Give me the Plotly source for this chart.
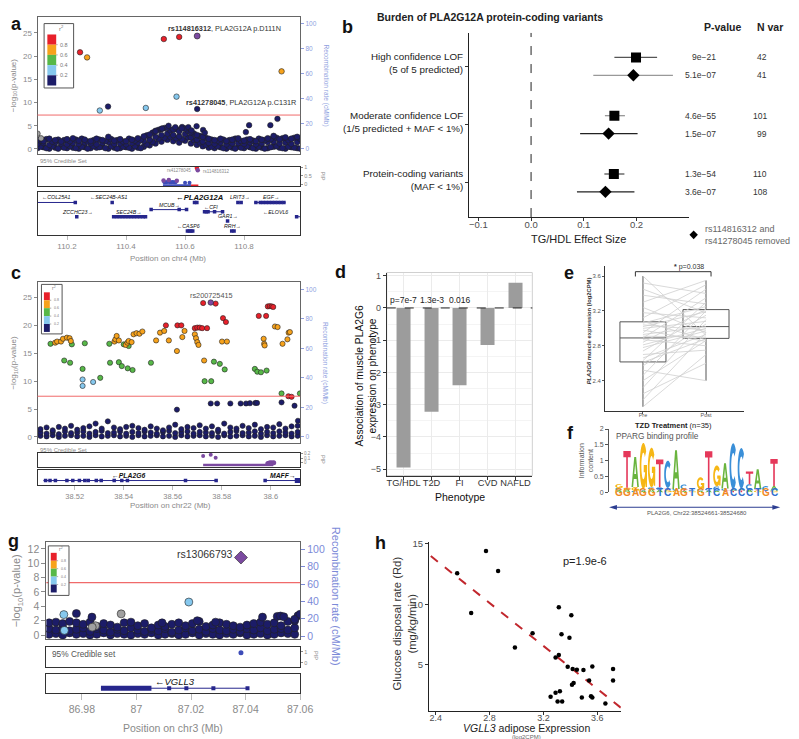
import numpy as np
import plotly.graph_objects as go

# =========================== DATA ===========================
# ---- panel a : PLA2G12A locus (chr4) ----
a_bg_x = [110.10, 110.12, 110.14, 110.16, 110.18, 110.20, 110.22, 110.24, 110.26, 110.28,
          110.30, 110.32, 110.34, 110.36, 110.38, 110.40, 110.42, 110.44, 110.46, 110.48,
          110.50, 110.52, 110.54, 110.56, 110.58, 110.60, 110.62, 110.64, 110.66, 110.68,
          110.70, 110.72, 110.74, 110.76, 110.78, 110.80, 110.82, 110.84, 110.86, 110.88,
          110.90, 110.92, 110.94, 110.96, 110.98]
a_bg_x2 = [110.11, 110.13, 110.15, 110.17, 110.19, 110.21, 110.23, 110.25, 110.27, 110.29,
           110.31, 110.33, 110.35, 110.37, 110.39, 110.41, 110.43, 110.45, 110.47, 110.49,
           110.51, 110.53, 110.55, 110.57, 110.59, 110.61, 110.63, 110.65, 110.67, 110.69,
           110.71, 110.73, 110.75, 110.77, 110.79, 110.81, 110.83, 110.85, 110.87, 110.89,
           110.91, 110.93, 110.95, 110.97, 110.99]
a_bg_hi = [2.0, 1.7, 2.2, 1.9, 1.6, 2.1, 2.3, 1.8, 2.0, 1.7, 2.2, 1.9, 2.6, 1.8, 2.1, 1.7, 2.0, 2.3, 2.7, 3.1,
           3.9, 4.3, 4.6, 4.2, 3.8, 4.4, 3.6, 3.0, 2.6, 2.2, 1.9, 2.2, 1.7, 2.0, 2.3, 1.8, 2.1, 1.7, 2.0, 2.3,
           2.8, 2.1, 2.5, 2.2, 2.6]
a_bg_hi2 = [1.8, 2.1, 1.6, 2.0, 1.9, 1.7, 2.0, 2.2, 1.6, 1.9, 2.0, 1.7, 2.1, 1.9, 1.6, 2.2, 1.8, 2.0, 2.9, 3.5,
            4.1, 4.5, 4.0, 4.3, 4.7, 3.9, 3.3, 2.8, 2.4, 2.0, 1.8, 2.0, 1.9, 2.2, 1.7, 2.0, 1.8, 2.2, 1.9, 2.1,
            2.4, 2.3, 1.9, 2.4, 2.2]
a_bg_mid = [1.1, 1.3, 0.9, 1.4, 1.2, 1.0, 1.3, 1.1, 1.4, 1.2, 1.0, 1.3, 1.5, 1.1, 1.2, 1.0, 1.3, 1.4, 1.7, 2.0,
            2.6, 3.0, 3.3, 3.0, 2.7, 3.2, 2.5, 2.0, 1.6, 1.3, 1.1, 1.4, 1.0, 1.2, 1.3, 1.1, 1.4, 1.0, 1.2, 1.5,
            1.6, 1.2, 1.4, 1.1, 1.5]
a_bg_lo = [0.2, 0.4, 0.1, 0.3, 0.5, 0.2, 0.3, 0.1, 0.4, 0.2, 0.3, 0.5, 0.1, 0.3, 0.2, 0.4, 0.1, 0.3, 0.5, 0.8,
           1.2, 1.6, 2.0, 1.7, 1.4, 1.8, 1.2, 0.9, 0.6, 0.3, 0.2, 0.4, 0.1, 0.3, 0.5, 0.2, 0.4, 0.1, 0.3, 0.2,
           0.5, 0.3, 0.1, 0.4, 0.2]
a_bg_lo2 = [0.5, 0.2, 0.6, 0.1, 0.3, 0.6, 0.2, 0.5, 0.1, 0.6, 0.4, 0.2, 0.6, 0.1, 0.5, 0.3, 0.6, 0.2, 1.0, 1.5,
            2.2, 2.4, 2.6, 2.3, 2.1, 2.5, 1.9, 1.4, 0.9, 0.5, 0.6, 0.2, 0.5, 0.1, 0.3, 0.6, 0.2, 0.5, 0.1, 0.4,
            0.6, 0.2, 0.5, 0.3, 0.1]
a_grey_x = [110.100, 110.112]
a_grey_y = [3.3, 2.3]
a_navy_x = [110.339, 110.641, 110.913, 110.889, 110.817, 110.806, 110.522, 110.544, 110.567, 110.589,
            110.611, 110.639, 110.661, 110.500, 110.622, 110.667]
a_navy_y = [9.12, 8.6, 6.48, 5.13, 5.13, 3.63, 4.4, 5.0, 4.7, 4.4, 4.7, 4.9, 4.1, 3.8, 4.0, 3.5]
a_lblue_x = [110.311, 110.467, 110.571]
a_lblue_y = [8.27, 8.83, 11.26]
a_orange_x = [110.268, 110.927]
a_orange_y = [19.7, 16.7]
a_red_x = [110.244, 110.528, 110.580]
a_red_y = [20.8, 23.65, 24.1]
a_lead_x = [110.641]
a_lead_y = [24.3]
# credible set (PIP)
a_pip_red_x, a_pip_red_y = [110.640], [0.97]
a_pip_lead_x, a_pip_lead_y = [110.643], [0.84]
a_pip_purple_x = [110.527, 110.545, 110.572]
a_pip_purple_y = [0.22, 0.25, 0.21]
a_pip_blue_x = [110.530, 110.535, 110.540, 110.548, 110.553, 110.558, 110.563, 110.568, 110.600, 110.615]
a_pip_blue_y = [0.13, 0.12, 0.14, 0.13, 0.12, 0.14, 0.13, 0.12, 0.10, 0.10]
a_cs_range = [110.525, 110.620, 110.645]
# genes
a_gene_names = ["COL25A1", "SEC24B-AS1", "PLA2G12A", "LRIT3", "EGF", "ZCCHC23", "SEC24B",
                "MCUB", "CFI", "GAR1", "RRH", "CASP6", "ELOVL6"]
a_gene_strand = [-1, -1, -1, 1, 1, 1, 1, 1, -1, 1, 1, -1, -1]
a_gene_start = [110.100, 110.352, 110.630, 110.778, 110.835, 110.231, 110.355,
                110.483, 110.664, 110.743, 110.757, 110.606, 110.976]
a_gene_end = [110.228, 110.355, 110.642, 110.792, 110.940, 110.235, 110.467,
              110.606, 110.728, 110.746, 110.767, 110.628, 110.990]
a_gene_row = [1, 1, 1, 1, 1, 3, 3, 2, 2.3, 3.6, 5, 5, 3]
a_gene_label_x = [110.165, 110.342, 110.650, 110.787, 110.890, 110.235, 110.410,
                  110.547, 110.687, 110.745, 110.762, 110.611, 110.908]
a_gene_exons = [[110.228], [110.353], [110.632, 110.640], [110.779, 110.790],
                [110.840, 110.855, 110.865, 110.875, 110.885, 110.895, 110.905, 110.915, 110.925, 110.935],
                [110.233],
                [110.358, 110.368, 110.378, 110.388, 110.398, 110.408, 110.418, 110.428, 110.438, 110.448, 110.458, 110.466],
                [110.485, 110.580, 110.605], [110.666, 110.672, 110.678, 110.700, 110.727],
                [110.744], [110.758, 110.766], [110.608, 110.614, 110.620, 110.626], [110.978]]

# ---- panel b : burden test ----
b_groups = ["High confidence LOF<br>(5 of 5 predicted)",
            "Moderate confidence LOF<br>(1/5 predicted + MAF &lt; 1%)",
            "Protein-coding variants<br>(MAF &lt; 1%)"]
b_group_pos = [3, 2, 1]
b_all_est = [0.199, 0.158, 0.157]
b_all_lo = [0.158, 0.140, 0.139]
b_all_hi = [0.239, 0.178, 0.177]
b_rm_est = [0.194, 0.147, 0.141]
b_rm_lo = [0.118, 0.093, 0.087]
b_rm_hi = [0.269, 0.202, 0.196]
b_all_p = ["9e−21", "4.6e−55", "1.3e−54"]
b_rm_p = ["5.1e−07", "1.5e−07", "3.6e−07"]
b_all_n = [42, 101, 110]
b_rm_n = [41, 99, 108]

# ---- panel c : PLA2G6 locus (chr22) ----
c_bg_x = [38.5060, 38.5085, 38.5110, 38.5135, 38.5160, 38.5185, 38.5210, 38.5235, 38.5260, 38.5285,
          38.5310, 38.5335, 38.5360, 38.5385, 38.5410, 38.5435, 38.5460, 38.5485, 38.5510, 38.5535,
          38.5560, 38.5585, 38.5610, 38.5635, 38.5660, 38.5685, 38.5710, 38.5735, 38.5760, 38.5785,
          38.5810, 38.5835, 38.5860, 38.5885, 38.5910, 38.5935, 38.5960, 38.5985, 38.6010, 38.6035,
          38.6060, 38.6085, 38.6110]
c_bg_hi = [1.4, 1.7, 1.2, 1.8, 1.5, 2.0, 1.3, 1.6, 1.9, 2.4, 1.5, 2.8, 1.7, 1.4, 1.8, 2.0, 1.6, 1.3, 1.9, 1.5,
           1.2, 1.7, 2.2, 1.4, 1.8, 1.6, 2.1, 1.5, 1.9, 1.3, 2.4, 1.7, 1.5, 2.0, 1.6, 2.2, 1.4, 1.8, 1.7, 2.3,
           1.5, 1.9, 2.0]
c_bg_mid = [0.8, 0.6, 0.9, 0.5, 1.0, 0.7, 0.8, 1.0, 0.6, 0.9, 1.1, 0.7, 0.8, 1.0, 0.6, 0.9, 0.7, 1.0, 0.8, 0.6,
            0.9, 1.1, 0.7, 0.8, 1.0, 0.6, 0.9, 0.8, 0.7, 1.0, 0.6, 0.9, 1.1, 0.7, 0.8, 1.0, 0.6, 0.9, 0.7, 1.0,
            0.8, 0.6, 0.9]
c_bg_lo = [0.2, 0.1, 0.3, 0.0, 0.2, 0.3, 0.1, 0.2, 0.0, 0.3, 0.1, 0.2, 0.3, 0.1, 0.2, 0.0, 0.3, 0.1, 0.2, 0.3,
           0.1, 0.2, 0.0, 0.3, 0.1, 0.2, 0.3, 0.1, 0.2, 0.0, 0.3, 0.1, 0.2, 0.3, 0.1, 0.2, 0.0, 0.3, 0.1, 0.2,
           0.3, 0.1, 0.2]
c_navy_x = [38.5617, 38.5755, 38.5781, 38.5835, 38.5877, 38.5899, 38.5915, 38.5937, 38.5944, 38.6044, 38.6097, 38.6111]
c_navy_y = [4.9, 6.0, 6.0, 6.0, 6.0, 6.0, 6.05, 6.1, 6.1, 6.2, 5.6, 2.9]
c_lblue_x = [38.5232, 38.5232, 38.5275]
c_lblue_y = [10.3, 9.15, 9.85]
c_green_x = [38.5101, 38.5188, 38.5157, 38.5181, 38.5232, 38.5241, 38.5304, 38.5341, 38.5344, 38.5380,
             38.5392, 38.5416, 38.5436, 38.5400, 38.5420, 38.5511, 38.5730, 38.5757, 38.5768, 38.5792,
             38.5812, 38.5935, 38.5945, 38.5960, 38.5983, 38.6044, 38.6119]
c_green_y = [16.7, 16.6, 13.7, 13.3, 12.2, 16.8, 10.6, 16.7, 13.3, 13.4, 12.7, 12.3, 12.0, 16.6, 16.3, 13.3,
             10.0, 10.0, 13.5, 13.1, 12.1, 12.2, 11.7, 11.6, 11.9, 7.8, 7.8]
c_orange_x = [38.5120, 38.5128, 38.5144, 38.5152, 38.5168, 38.5179, 38.5184, 38.5362, 38.5366, 38.5371,
              38.5380, 38.5408, 38.5415, 38.5420, 38.5432, 38.5440, 38.5452, 38.5464, 38.5476, 38.5532,
              38.5548, 38.5565, 38.5584, 38.5617, 38.5639, 38.5648, 38.5690, 38.5695, 38.5700, 38.5705,
              38.5728, 38.5801, 38.5821, 38.5971, 38.5973, 38.5975, 38.6017, 38.6028, 38.6048, 38.6068,
              38.6073, 38.6078]
c_orange_y = [16.9, 17.1, 17.1, 17.6, 17.8, 17.7, 17.2, 17.1, 17.5, 18.1, 17.3, 16.5, 16.9, 17.2, 17.0,
              18.4, 18.6, 18.5, 18.9, 17.3, 18.7, 19.0, 17.3, 15.4, 17.9, 19.0, 18.4, 17.7, 17.0, 16.5,
              13.7, 17.1, 17.1, 17.6, 16.7, 16.4, 19.8, 19.7, 16.7, 17.5, 18.7, 18.8]
c_red_x = [38.5724, 38.5775, 38.5988, 38.5996, 38.6004, 38.6010, 38.5951, 38.5981, 38.5805, 38.5817,
           38.5572, 38.5619, 38.5635, 38.5690, 38.5700, 38.5710, 38.5720, 38.5740, 38.6072, 38.6085]
c_red_y = [24.0, 23.9, 23.4, 23.45, 23.4, 23.3, 21.7, 21.7, 21.3, 20.6, 20.0, 20.0, 20.0, 19.5, 19.6, 19.6,
           19.5, 19.5, 7.3, 7.2]
c_lead_x, c_lead_y = [38.5755], [24.1]
c_pip_x = [38.5724, 38.5755, 38.5775]
c_pip_y = [0.15, 0.18, 0.11]
c_pip_cluster_x = [38.5988, 38.5994, 38.6000, 38.6006, 38.6012]
c_pip_cluster_y = [-0.02, -0.01, 0.0, -0.01, 0.0]
c_cs_range = [38.5724, 38.6010]
c_gene_names = ["PLA2G6", "MAFF"]
c_gene_strand = [-1, 1]
c_gene_start = [38.5072, 38.5977]
c_gene_end = [38.5777, 38.6128]
c_gene_label_x = [38.5420, 38.6048]
c_gene_exons = [[38.5081, 38.5099, 38.5121, 38.5168, 38.5192, 38.5219, 38.5241, 38.5255, 38.5288,
                 38.5308, 38.5361, 38.5392, 38.5415, 38.5652, 38.5777], [38.5977]]
c_gene_thick = [None, [38.6098, 38.6128]]

# ---- panel d ----
d_pheno = ["TG/HDL", "T2D", "FI", "CVD", "NAFLD"]
d_assoc = [-4.95, -3.22, -2.40, -1.15, 0.78]
d_pval = ["p=7e-7", "1.3e-3", "0.016", "", ""]

# ---- panel e ----
e_pre = [2.10, 2.18, 2.25, 2.32, 2.40, 2.46, 2.52, 2.57, 2.61, 2.63, 2.66, 2.70, 2.74, 2.78, 2.81, 2.84,
         2.87, 2.89, 2.91, 2.93, 2.95, 2.98, 3.00, 3.02, 3.04, 3.06, 3.08, 3.12, 3.18, 3.24, 3.30, 3.38,
         3.45, 3.52, 3.60]
e_post = [2.70, 2.95, 2.60, 3.10, 2.86, 3.20, 2.40, 3.05, 2.88, 3.30, 2.93, 2.75, 3.15, 2.97, 3.00, 3.22,
          2.80, 3.35, 2.90, 3.02, 3.45, 2.85, 3.08, 3.19, 2.98, 3.25, 2.87, 3.50, 3.12, 2.95, 3.55, 3.28,
          3.18, 3.40, 2.92]

# ---- panel f : PPARG motif logo ----
f_sequence = "GGAGGTCAGTGTCACCCTGC"
f_logo = [
    [("A", 0.08), ("C", 0.06), ("G", 0.12)],
    [("A", 0.10), ("G", 0.05), ("T", 1.16)],
    [("C", 0.05), ("G", 0.12), ("A", 0.95)],
    [("A", 0.06), ("C", 0.05), ("G", 1.45)],
    [("A", 0.10), ("C", 0.06), ("G", 1.25)],
    [("A", 0.08), ("C", 0.08), ("T", 0.88)],
    [("G", 0.08), ("T", 0.06), ("C", 0.86)],
    [("G", 0.06), ("C", 0.05), ("A", 1.22)],
    [("A", 0.05), ("T", 0.05), ("C", 0.15)],
    [("G", 0.04), ("C", 0.04)],
    [("A", 0.05), ("C", 0.05), ("G", 0.38)],
    [("A", 0.06), ("C", 0.06), ("T", 1.18)],
    [("A", 0.05), ("C", 0.14), ("G", 0.66)],
    [("T", 0.06), ("C", 0.06), ("A", 0.80)],
    [("T", 0.05), ("A", 0.05), ("C", 1.45)],
    [("T", 0.06), ("A", 0.06), ("C", 1.28)],
    [("A", 0.08), ("C", 0.18), ("T", 0.40)],
    [("G", 0.06), ("T", 0.05), ("A", 0.62)],
    [("T", 0.04), ("C", 0.16)],
    [("G", 0.05), ("A", 0.15), ("T", 0.85)],
]

# ---- panel g : VGLL3 locus (chr3) ----
g_bg_x = [86.9680, 86.9705, 86.9730, 86.9755, 86.9780, 86.9805, 86.9830, 86.9855, 86.9880, 86.9905,
          86.9930, 86.9955, 86.9980, 87.0005, 87.0030, 87.0055, 87.0080, 87.0105, 87.0130, 87.0155,
          87.0180, 87.0205, 87.0230, 87.0255, 87.0280, 87.0305, 87.0330, 87.0355, 87.0380, 87.0405,
          87.0430, 87.0455, 87.0480, 87.0505, 87.0530, 87.0555, 87.0580]
g_bg_hi = [1.7, 1.8, 1.6, 1.9, 1.7, 1.5, 1.8, 1.2, 1.6, 1.4, 1.1, 1.7, 1.8, 1.3, 1.6, 1.0, 1.4, 1.2, 1.5,
           1.7, 1.3, 1.6, 1.9, 1.2, 1.4, 1.7, 1.5, 1.3, 1.1, 1.4, 1.6, 1.8, 1.5, 1.7, 1.3, 1.9, 2.0]
g_bg_mid = [0.9, 0.7, 1.0, 0.6, 0.8, 1.0, 0.5, 0.9, 0.7, 0.4, 0.8, 0.6, 1.0, 0.7, 0.5, 0.8, 0.6, 0.9, 0.4,
            0.7, 1.0, 0.6, 0.8, 0.5, 0.9, 0.7, 0.6, 0.8, 0.5, 0.9, 0.7, 1.0, 0.6, 0.8, 0.9, 0.7, 1.0]
g_bg_lo = [0.1, 0.2, 0.0, 0.3, 0.1, 0.2, 0.0, 0.1, 0.3, 0.0, 0.2, 0.1, 0.0, 0.2, 0.1, 0.3, 0.0, 0.1, 0.2,
           0.0, 0.1, 0.3, 0.0, 0.2, 0.1, 0.0, 0.2, 0.1, 0.3, 0.0, 0.1, 0.2, 0.0, 0.1, 0.3, 0.2, 0.1]
g_grey_x = [86.9944, 86.9850, 86.9838]
g_grey_y = [2.95, 1.3, 1.1]
g_navy_x = [86.9780, 86.9837, 87.0462, 87.0516, 87.0528, 87.0540, 87.0592, 87.0094, 87.0223, 87.0290, 87.0580, 87.0600]
g_navy_y = [3.0, 2.5, 2.5, 2.6, 2.65, 2.55, 2.7, 1.7, 2.0, 1.8, 2.2, 2.9]
g_lblue_x = [87.0192, 86.9734, 86.9736]
g_lblue_y = [4.6, 2.85, 0.65]
g_lead_x, g_lead_y = [87.0383], [10.8]
g_pip_x, g_pip_y = [87.0383], [0.92]
g_gene_names = ["VGLL3"]
g_gene_strand = [-1]
g_gene_start = [86.987]
g_gene_end = [87.0407]
g_gene_label_x = [87.014]
g_gene_exons = [[87.012, 87.0183, 87.0282, 87.0407]]
g_gene_thick = [[86.987, 87.0055]]

# ---- panel h ----
h_expr = [2.559, 2.773, 2.863, 2.663, 2.988, 3.119, 3.314, 3.407, 3.334, 3.393, 3.314, 3.290,
          3.380, 3.417, 3.448, 3.497, 3.563, 3.717, 3.717, 3.539, 3.424, 3.412, 3.322, 3.290,
          3.253, 3.305, 3.339, 3.485, 3.553, 3.563, 3.660]
h_rd = [12.57, 14.4, 12.76, 9.29, 6.42, 7.6, 9.75, 9.1, 7.52, 7.24, 5.8, 5.6,
        4.84, 4.65, 4.59, 4.57, 4.86, 4.65, 3.69, 3.69, 3.5, 3.34, 2.81, 2.68,
        2.35, 1.97, 1.97, 2.3, 2.4, 2.3, 1.8]
h_fit_x = [2.363, 3.778]
h_fit_y = [13.99, 1.42]

# =========================== STYLE / LAYOUT ===========================
W, H = 799, 739
FONT = "Liberation Sans, Arial, Helvetica, sans-serif"
RED, ORANGE, GREEN, LBLUE, NAVY, PURPLE = "#e8202a", "#f7a21b", "#57b848", "#86c8ee", "#1c1c68", "#7b4aa0"
GREYPT = "#a0a0a0"
RECOMB = "#8f9fe0"
TXT = "#8a8a8a"
GENE = "#26268c"
LOGO_COL = {"A": "#6ab43e", "C": "#3a8fd8", "G": "#f6b716", "T": "#e5385a"}
SEQ_COL = {"A": "#f08a1e", "G": "#f08a1e", "C": "#2f6fcf", "T": "#2f6fcf"}


def X(p):
    return p / W


def Y(p):
    return 1 - p / H


def xdom(a, b):
    return [X(a), X(b)]


def ydom(top, bot):
    return [Y(bot), Y(top)]


fig = go.Figure()
ann = []
shp = []


def txt(text, x, y, size=9, color="#333", xa="center", ya="middle", angle=0,
        xref="paper", yref="paper", yshift=0, align="center"):
    if xref == "paper":
        x = X(x)
    if yref == "paper":
        y = Y(y)
    ann.append(dict(text=text, x=x, y=y, xref=xref, yref=yref, showarrow=False, align=align,
                    font=dict(size=size, color=color, family=FONT), xanchor=xa, yanchor=ya,
                    textangle=angle, yshift=yshift))


def pts(x, y, color, size, xa, ya, symbol="circle", lw=0.6, lc="#222"):
    fig.add_trace(go.Scatter(x=x, y=y, mode="markers", xaxis=xa, yaxis=ya,
                             marker=dict(color=color, size=size, symbol=symbol,
                                         line=dict(color=lc, width=lw)),
                             hoverinfo="skip", showlegend=False))


def seg(x, y, color, width, xa, ya, dash="solid"):
    fig.add_trace(go.Scatter(x=x, y=y, mode="lines", xaxis=xa, yaxis=ya,
                             line=dict(color=color, width=width, dash=dash),
                             hoverinfo="skip", showlegend=False))


def ghost(xa, ya, x, y):
    fig.add_trace(go.Scatter(x=[x], y=[y], mode="markers", xaxis=xa, yaxis=ya,
                             marker=dict(opacity=0), hoverinfo="skip", showlegend=False))


def box_axis(**kw):
    base = dict(showgrid=False, zeroline=False, showline=True, mirror=True, linecolor="#666",
                linewidth=1, ticks="", showticklabels=False)
    base.update(kw)
    return base


def r2_legend(x0, y0, x1, y1, bx0, bx1, btop, sh, fs, rfs, ry):
    shp.append(dict(type="rect", xref="paper", yref="paper", x0=X(x0), x1=X(x1), y0=Y(y0), y1=Y(y1),
                    line=dict(color="#555", width=1), fillcolor="white"))
    cols = [RED, ORANGE, GREEN, LBLUE, NAVY]
    for k, c in enumerate(cols):
        shp.append(dict(type="rect", xref="paper", yref="paper", x0=X(bx0), x1=X(bx1),
                        y0=Y(btop + sh * (k + 1)), y1=Y(btop + sh * k),
                        line=dict(width=0), fillcolor=c))
    for k, lab in enumerate(["0.8", "0.6", "0.4", "0.2"]):
        yy = btop + sh * (k + 1)
        shp.append(dict(type="line", xref="paper", yref="paper", x0=X(bx1), x1=X(bx1 + 1.5),
                        y0=Y(yy), y1=Y(yy), line=dict(color="#777", width=0.6)))
        txt(lab, bx1 + 2, yy, size=fs, color="#777", xa="left")
    txt("r<sup>2</sup>", (bx0 + x1) / 2 + 1, ry, size=rfs, color="#777")


def genes(names, strands, starts, ends, rows, label_x, exons, xa, ya, fsize, yshift,
          thick=None, bold=(), big=(), exon_size=4, lw=1):
    for i, n in enumerate(names):
        seg([starts[i], ends[i]], [rows[i], rows[i]], GENE, lw, xa, ya)
        if thick and thick[i]:
            seg(thick[i], [rows[i], rows[i]], GENE, 5, xa, ya)
        pts(exons[i], [rows[i]] * len(exons[i]), GENE, exon_size, xa, ya, symbol="square", lw=0)
        name = f"<i>{n}</i>"
        if n in bold:
            name = f"<b>{name}</b>"
        label = f"<b>←</b>{name}" if strands[i] < 0 else f"{name}<b>→</b>"
        fs = fsize * 1.45 if n in big else fsize
        ann.append(dict(text=label, x=label_x[i], y=rows[i], xref=xa, yref=ya, showarrow=False,
                        font=dict(size=fs, color="#111", family=FONT), xanchor="center",
                        yanchor="middle", yshift=yshift))


L = dict(width=W, height=H, autosize=False, margin=dict(l=0, r=0, t=0, b=0, pad=0),
         paper_bgcolor="white", plot_bgcolor="white", showlegend=False, hovermode=False,
         font=dict(family=FONT, size=9, color="#333"))

# ------------------------------ panel a ------------------------------
L["xaxis"] = box_axis(domain=xdom(30, 297), range=[110.1, 110.99], anchor="y")
L["yaxis"] = box_axis(domain=ydom(5, 143), range=[-1, 28.4], anchor="x", showticklabels=True,
                      tickvals=[0, 5, 10, 15, 20, 25], ticks="outside", ticklen=3, tickcolor=TXT,
                      tickfont=dict(size=8, color=TXT))
L["yaxis15"] = dict(overlaying="y", side="right", anchor="x", range=[-3.97, 105.6],
                    tickvals=[0, 20, 40, 60, 80, 100], ticks="outside", ticklen=3, tickcolor=RECOMB,
                    tickfont=dict(size=6.5, color=RECOMB), showgrid=False, zeroline=False, showline=False)
L["xaxis2"] = box_axis(domain=xdom(30, 297), range=[110.1, 110.99], anchor="y2", linecolor="#333")
L["yaxis2"] = box_axis(domain=ydom(156, 176), range=[-0.12, 1.06], anchor="x2", side="right",
                       showticklabels=True, tickvals=[0, 0.5, 1], ticks="outside", ticklen=2,
                       tickcolor=TXT, tickfont=dict(size=5.5, color=TXT), linecolor="#333")
L["xaxis3"] = box_axis(domain=xdom(30, 297), range=[110.1, 110.99], anchor="y3", linecolor="#333",
                       showticklabels=True, tickvals=[110.2, 110.4, 110.6, 110.8], ticks="outside",
                       ticklen=4, tickcolor="#bbb", tickfont=dict(size=8, color=TXT))
L["yaxis3"] = box_axis(domain=ydom(182, 225), range=[5.54, -0.43], anchor="x3", linecolor="#333")

for xs, ys in [(a_bg_x, a_bg_lo), (a_bg_x2, a_bg_lo2), (a_bg_x, a_bg_mid),
               (a_bg_x2, a_bg_hi2), (a_bg_x, a_bg_hi)]:
    pts(xs, ys, NAVY, 5.8, "x", "y")
pts(a_grey_x, a_grey_y, GREYPT, 5.5, "x", "y")
pts(a_navy_x, a_navy_y, NAVY, 5.5, "x", "y")
pts(a_lblue_x, a_lblue_y, LBLUE, 5.5, "x", "y")
pts(a_orange_x, a_orange_y, ORANGE, 5.5, "x", "y")
pts(a_red_x, a_red_y, RED, 5.5, "x", "y")
pts(a_lead_x, a_lead_y, PURPLE, 6, "x", "y")
ghost("x", "y15", 110.5, 0)
shp.append(dict(type="line", xref="x domain", yref="y", x0=0, x1=1, y0=7.3, y1=7.3,
                line=dict(color="#f06a6a", width=1)))
txt("<b>rs114816312</b>, PLA2G12A p.D111N", 161, 17, size=7.3, color="#333", xa="left")
txt("<b>rs41278045</b>, PLA2G12A p.C131R", 179, 91, size=7.3, color="#333", xa="left")
r2_legend(36.7, 11.7, 66.7, 76.7, 40, 49, 22.7, 10.3, 5.5, 6, 16.5)
# credible set
seg([a_cs_range[0], a_cs_range[1]], [-0.05, -0.05], "#3d4cb8", 2, "x2", "y2")
seg([a_cs_range[1], a_cs_range[2]], [-0.05, -0.05], RED, 1.5, "x2", "y2")
pts(a_pip_blue_x, a_pip_blue_y, "#3d4cb8", 4, "x2", "y2", lw=0)
pts(a_pip_purple_x, a_pip_purple_y, PURPLE, 4.5, "x2", "y2", lw=0)
pts(a_pip_red_x, a_pip_red_y, RED, 4.5, "x2", "y2", lw=0)
pts(a_pip_lead_x, a_pip_lead_y, PURPLE, 4.5, "x2", "y2", lw=0)
txt("rs41278045", 188, 160, size=4.5, color=TXT, xa="right")
txt("rs114816312", 196, 161, size=4.5, color=TXT, xa="left")
txt("95% Credible Set", 31, 150, size=6, color=TXT, xa="left")
txt("PIP", 320, 166, size=5.5, color=TXT, angle=90)
genes(a_gene_names, a_gene_strand, a_gene_start, a_gene_end, a_gene_row, a_gene_label_x,
      a_gene_exons, "x3", "y3", 5.3, 5, bold=("PLA2G12A",), big=("PLA2G12A",), exon_size=3.5)
txt("−log<sub>10</sub>(p-value)", 6, 74, size=8, color=TXT, angle=-90)
txt("Recombination rate (cM/Mb)", 323, 74, size=6.5, color=RECOMB, angle=90)
txt("Position on chr4 (Mb)", 163, 249, size=8, color=TXT)

# ------------------------------ panel b ------------------------------
L["xaxis4"] = dict(domain=xdom(469, 692), range=[-0.117, 0.299], anchor="y4",
                   tickvals=[-0.1, 0, 0.1, 0.2], ticktext=["−0.1", "0.0", "0.1", "0.2"],
                   tickfont=dict(size=9.5, color="#4d4d4d"), ticks="outside", ticklen=3,
                   tickcolor="#333", showline=True, linecolor="#222", showgrid=False, zeroline=False,
                   ticklabelstandoff=-4)
L["yaxis4"] = dict(domain=ydom(21, 207), range=[0.415, 3.576], anchor="x4", tickvals=b_group_pos,
                   showticklabels=False, ticks="outside", ticklen=3, tickcolor="#333",
                   showline=True, linecolor="#222", showgrid=False, zeroline=False)
for i, lab in enumerate(b_groups):
    ann.append(dict(text=lab, x=X(465), y=b_group_pos[i] + 0.05, xref="paper", yref="y4",
                    showarrow=False, xanchor="right", yanchor="middle", align="right",
                    font=dict(size=9.8, color="#222", family=FONT)))
shp.append(dict(type="line", xref="x4", yref="y4", x0=0, x1=0, y0=0.415, y1=3.576,
                line=dict(color="#222", width=1, dash="dash")))
OFF = 0.153
sq_cols = ["#555", "#777", "#222"]
di_cols = ["#999", "#222", "#222"]
for i in range(3):
    seg([b_all_lo[i], b_all_hi[i]], [b_group_pos[i] + OFF] * 2, sq_cols[i], 1.2, "x4", "y4")
    seg([b_rm_lo[i], b_rm_hi[i]], [b_group_pos[i] - OFF] * 2, di_cols[i], 1.2, "x4", "y4")
pts(b_all_est, [p + OFF for p in b_group_pos], "black", 10, "x4", "y4", symbol="square", lw=0)
pts(b_rm_est, [p - OFF for p in b_group_pos], "black", 9.5, "x4", "y4", symbol="diamond", lw=0)
txt("<b>Burden of PLA2G12A protein-coding variants</b>", 490, 5, size=10.5, color="#222")
txt("<b>P-value</b>", 727, 15, size=10.5, color="#222")
txt("<b>N var</b>", 775, 15, size=10.5, color="#222")
for i in range(3):
    for val, nv, off in [(b_all_p[i], b_all_n[i], OFF), (b_rm_p[i], b_rm_n[i], -OFF)]:
        ann.append(dict(text=val, x=X(722), y=b_group_pos[i] + off, xref="paper", yref="y4",
                        showarrow=False, font=dict(size=8.5, color="#333", family=FONT)))
        ann.append(dict(text=str(nv), x=X(774), y=b_group_pos[i] + off, xref="paper", yref="y4",
                        showarrow=False, font=dict(size=8.5, color="#333", family=FONT)))
txt("TG/HDL Effect Size", 580, 229, size=11, color="#222")
dx, dy = 4.3, 4.3
shp.append(dict(type="path", xref="paper", yref="paper",
                path=f"M {X(697-dx)},{Y(225)} L {X(697)},{Y(225-dy)} L {X(697+dx)},{Y(225)} L {X(697)},{Y(225+dy)} Z",
                fillcolor="black", line=dict(width=0)))
txt("rs114816312 and<br>rs41278045 removed", 706, 225, size=9, color="#666", xa="left", align="left")

# ------------------------------ panel c ------------------------------
L["xaxis5"] = box_axis(domain=xdom(30, 297), range=[38.5048, 38.612], anchor="y5")
L["yaxis5"] = box_axis(domain=ydom(273, 435), range=[-1.06, 27.7], anchor="x5", showticklabels=True,
                       tickvals=[0, 5, 10, 15, 20, 25], ticks="outside", ticklen=3, tickcolor=TXT,
                       tickfont=dict(size=8, color=TXT))
L["yaxis16"] = dict(overlaying="y5", side="right", anchor="x5", range=[-4.03, 104.7],
                    tickvals=[0, 20, 40, 60, 80, 100], ticks="outside", ticklen=3, tickcolor=RECOMB,
                    tickfont=dict(size=6.5, color=RECOMB), showgrid=False, zeroline=False, showline=False)
L["xaxis6"] = box_axis(domain=xdom(30, 297), range=[38.5048, 38.612], anchor="y6", linecolor="#333")
L["yaxis6"] = box_axis(domain=ydom(445, 459), range=[-0.089, 0.222], anchor="x6", side="right",
                       showticklabels=True, tickvals=[0, 0.1, 0.2], ticks="outside", ticklen=2,
                       tickcolor=TXT, tickfont=dict(size=4.5, color=TXT), linecolor="#333")
L["xaxis7"] = box_axis(domain=xdom(30, 297), range=[38.5048, 38.612], anchor="y7", linecolor="#333",
                       showticklabels=True, tickvals=[38.52, 38.54, 38.56, 38.58, 38.6],
                       ticktext=["38.52", "38.54", "38.56", "38.58", "38.6"], ticks="outside",
                       ticklen=4, tickcolor="#bbb", tickfont=dict(size=7.5, color=TXT))
L["yaxis7"] = box_axis(domain=ydom(462, 478), range=[1.71, -0.57], anchor="x7", linecolor="#333")

for xs, ys in [(c_bg_x, c_bg_lo), (c_bg_x, c_bg_mid), (c_bg_x, c_bg_hi)]:
    pts(xs, ys, NAVY, 5.2, "x5", "y5")
pts(c_navy_x, c_navy_y, NAVY, 5.2, "x5", "y5")
pts(c_lblue_x, c_lblue_y, LBLUE, 5.2, "x5", "y5")
pts(c_green_x, c_green_y, GREEN, 5.2, "x5", "y5")
pts(c_orange_x, c_orange_y, ORANGE, 5.2, "x5", "y5")
pts(c_red_x, c_red_y, RED, 5.2, "x5", "y5")
pts(c_lead_x, c_lead_y, PURPLE, 5.5, "x5", "y5")
ghost("x5", "y16", 38.55, 0)
shp.append(dict(type="line", xref="x5 domain", yref="y5", x0=0, x1=1, y0=7.3, y1=7.3,
                line=dict(color="#f06a6a", width=1)))
txt("rs200725415", 207, 286, size=7.3, color="#555")
r2_legend(34, 275, 55, 325, 36.5, 42.5, 283, 8, 3.5, 5, 279)
seg(c_cs_range, [-0.05, -0.05], PURPLE, 2.5, "x6", "y6")
pts(c_pip_x, c_pip_y, PURPLE, 4, "x6", "y6", lw=0)
pts(c_pip_cluster_x, c_pip_cluster_y, PURPLE, 5, "x6", "y6", lw=0)
txt("95% Credible Set", 31, 442, size=6, color=TXT, xa="left")
txt("PIP", 320, 452, size=5.5, color=TXT, angle=90)
genes(c_gene_names, c_gene_strand, c_gene_start, c_gene_end, [1, 1], c_gene_label_x,
      c_gene_exons, "x7", "y7", 6.8, 5, thick=c_gene_thick, bold=("PLA2G6", "MAFF"), exon_size=3.5)
txt("−log<sub>10</sub>(p-value)", 6, 354, size=8, color=TXT, angle=-90)
txt("Recombination rate (cM/Mb)", 323, 354, size=6.5, color=RECOMB, angle=90)
txt("Position on chr22 (Mb)", 165, 498, size=8, color=TXT)

# ------------------------------ panel d ------------------------------
L["xaxis8"] = dict(domain=xdom(385, 533), range=[-0.6, 4.6], anchor="y8", tickvals=list(range(5)),
                   ticktext=d_pheno, tickangle=0, tickfont=dict(size=9.3, color="#333"), ticks="outside",
                   ticklen=3, tickcolor="#333", showgrid=True, gridcolor="#ebebeb", showline=True,
                   linecolor="#333", zeroline=False, ticklabelstandoff=-5)
L["yaxis8"] = dict(domain=ydom(263, 468), range=[-5.2, 1.1], anchor="x8", tickvals=[-5, -4, -3, -2, -1, 0, 1],
                   ticktext=["−5", "−4", "−3", "−2", "−1", "0", "1"], tickfont=dict(size=9, color="#4d4d4d"),
                   ticks="outside", ticklen=3, tickcolor="#333", showgrid=True, gridcolor="#ebebeb",
                   minor=dict(showgrid=True, dtick=0.5, tick0=0, gridcolor="#f4f4f4"),
                   showline=True, linecolor="#333", zeroline=False)
shp.append(dict(type="rect", xref="x8 domain", yref="y8 domain", x0=0, x1=1, y0=0, y1=1,
                line=dict(color="#d0d0d0", width=1), layer="below"))
fig.add_trace(go.Bar(x=list(range(5)), y=d_assoc, width=0.5, xaxis="x8", yaxis="y8",
                     marker=dict(color="#9c9c9c", line=dict(width=0)), hoverinfo="skip"))
shp.append(dict(type="line", xref="x8 domain", yref="y8", x0=0, x1=1, y0=0, y1=0,
                line=dict(color="#222", width=1, dash="dash")))
for i, p in enumerate(d_pval):
    if p:
        ann.append(dict(text=p, x=i, y=0, xref="x8", yref="y8", showarrow=False, yanchor="bottom",
                        yshift=1, font=dict(size=8.5, color="#222", family=FONT)))
txt("Association of muscle PLA2G6<br>expression on phenotype", 363, 367, size=10.3, color="#111", angle=-90)
txt("Phenotype", 459, 490, size=10.5, color="#111")

# ------------------------------ panel e ------------------------------
L["xaxis9"] = dict(domain=xdom(607, 748), range=[-0.6, 1.6], anchor="y9", tickvals=[0, 1],
                   ticktext=["Pre", "Post"], tickfont=dict(size=5.5, color="#555"), ticks="outside",
                   ticklen=2, tickcolor="#555", showline=True, linecolor="#333", showgrid=False,
                   zeroline=False, ticklabelstandoff=-4)
L["yaxis9"] = dict(domain=ydom(256, 403), range=[2.05, 3.72], anchor="x9", tickvals=[2.4, 2.8, 3.2, 3.6],
                   tickfont=dict(size=6, color="#555"), ticks="outside", ticklen=2, tickcolor="#555",
                   showline=True, linecolor="#333", showgrid=False, zeroline=False)
pair_x, pair_y = [], []
for a, b in zip(e_pre, e_post):
    pair_x += [0, 1, None]
    pair_y += [a, b, None]
fig.add_trace(go.Scatter(x=pair_x, y=pair_y, mode="lines", xaxis="x9", yaxis="y9",
                         line=dict(color="#cfcfcf", width=0.8), hoverinfo="skip"))
for vals, pos in [(e_pre, 0), (e_post, 1)]:
    fig.add_trace(go.Box(y=vals, x0=pos, width=0.73, xaxis="x9", yaxis="y9", boxpoints=False,
                         whiskerwidth=0, fillcolor="rgba(0,0,0,0)", line=dict(color="#555", width=1),
                         hoverinfo="skip"))
shp.append(dict(type="path", xref="x9", yref="y9",
                path="M -0.12,3.595 L -0.12,3.65 L 1.08,3.65 L 1.08,3.595", line=dict(color="#333", width=1)))
txt("<b>*</b> p=0.038", 692, 257, size=7, color="#333")
txt("<b><i>PLA2G6</i> muscle expression (log2CPM)</b>", 591, 322, size=5.8, color="#333", angle=-90)
txt("<b>TZD Treatment</b> (n=35)", 677, 417, size=7.5, color="#222")

# ------------------------------ panel f ------------------------------
L["xaxis10"] = dict(domain=xdom(611, 785), range=[-0.2, 20.76], anchor="y10", visible=False)
L["yaxis10"] = dict(domain=ydom(421, 485), range=[0, 2], anchor="x10", tickvals=[0, 0.5, 1, 1.5, 2],
                    ticktext=["0", "0.5", "1", "1.5", "2"], tickfont=dict(size=7, color="#555"),
                    ticks="outside", ticklen=3, tickcolor="#555", showline=True, linecolor="#555",
                    showgrid=False, zeroline=False)
ghost("x10", "y10", 10, 1)


def glyph(letter):
    if letter == "T":
        return [([(0, 1), (1, 1), (1, 0.83), (0.61, 0.83), (0.61, 0), (0.39, 0), (0.39, 0.83), (0, 0.83)], None)]
    if letter == "A":
        return [([(0, 0), (0.37, 1), (0.63, 1), (1, 0), (0.78, 0), (0.69, 0.27), (0.31, 0.27), (0.22, 0)], None),
                ([(0.38, 0.43), (0.62, 0.43), (0.5, 0.78)], "white")]
    if letter == "C":
        t = np.radians(np.linspace(45, 315, 30))
        outer = [(0.5 + 0.5 * np.cos(a), 0.5 + 0.5 * np.sin(a)) for a in t]
        inner = [(0.5 + 0.27 * np.cos(a), 0.5 + 0.29 * np.sin(a)) for a in t[::-1]]
        return [(outer + inner, None)]
    t = np.radians(np.linspace(40, 355, 30))
    outer = [(0.5 + 0.5 * np.cos(a), 0.5 + 0.5 * np.sin(a)) for a in t]
    inner = [(0.5 + 0.27 * np.cos(a), 0.5 + 0.29 * np.sin(a)) for a in t[::-1]]
    bar = [(0.55, 0.52), (1.0, 0.52), (1.0, 0.04), (0.8, 0.04), (0.8, 0.36), (0.55, 0.36)]
    return [(outer + inner, None), (bar, None)]


LW = 0.9
for i, stack in enumerate(f_logo):
    pos = i + 1
    base = 0.0
    for letter, h in stack:
        for poly, fill in glyph(letter):
            path = "M " + " L ".join(f"{pos - LW / 2 + u * LW:.4f},{base + v * h:.4f}" for u, v in poly) + " Z"
            shp.append(dict(type="path", xref="x10", yref="y10", path=path,
                            fillcolor=fill or LOGO_COL[letter], line=dict(width=0)))
        base += h
for i, ch in enumerate(f_sequence):
    ann.append(dict(text=f"<b>{ch}</b>", x=i + 1, y=Y(493), xref="x10", yref="paper", showarrow=False,
                    font=dict(size=10, color=SEQ_COL[ch], family=FONT)))
shp.append(dict(type="line", xref="paper", yref="paper", x0=X(616), x1=X(780), y0=Y(500), y1=Y(500),
                line=dict(color="#2c3e91", width=1)))
for tip, back in [(611, 619), (785, 777)]:
    shp.append(dict(type="path", xref="paper", yref="paper",
                    path=f"M {X(tip)},{Y(500)} L {X(back)},{Y(497.6)} L {X(back)},{Y(502.4)} Z",
                    fillcolor="#2c3e91", line=dict(width=0)))
txt("PLA2G6, Chr22:38524661-38524680", 700, 506, size=6, color="#555")
txt("PPARG binding profile", 616, 428, size=8.3, color="#555", xa="left")
txt("Information<br>content", 587, 453, size=7, color="#555", angle=-90)

# ------------------------------ panel g ------------------------------
L["xaxis11"] = box_axis(domain=xdom(39, 297), range=[86.967, 87.06], anchor="y11")
L["yaxis11"] = box_axis(domain=ydom(535, 633), range=[-0.55, 12.97], anchor="x11", showticklabels=True,
                        tickvals=[0, 2, 4, 6, 8, 10, 12], ticks="outside", ticklen=4, tickcolor=TXT,
                        tickfont=dict(size=10.5, color=TXT))
L["yaxis17"] = dict(overlaying="y11", side="right", anchor="x11", range=[-3.4, 108.6],
                    tickvals=[0, 20, 40, 60, 80, 100], ticks="outside", ticklen=4, tickcolor="#7c8ad8",
                    tickfont=dict(size=10.5, color="#7c8ad8"), showgrid=False, zeroline=False, showline=False)
L["xaxis12"] = box_axis(domain=xdom(39, 297), range=[86.967, 87.06], anchor="y12", linecolor="#333")
L["yaxis12"] = box_axis(domain=ydom(641, 661), range=[-0.36, 1.45], anchor="x12", side="right",
                        showticklabels=True, tickvals=[0, 1], ticks="outside", ticklen=2, tickcolor=TXT,
                        tickfont=dict(size=5.5, color=TXT), linecolor="#333")
L["xaxis13"] = box_axis(domain=xdom(39, 297), range=[86.967, 87.06], anchor="y13", linecolor="#333",
                        showticklabels=True, tickvals=[86.98, 87.0, 87.02, 87.04, 87.06],
                        ticktext=["86.98", "87", "87.02", "87.04", "87.06"], ticks="outside", ticklen=6,
                        tickcolor="#bbb", tickfont=dict(size=10.5, color=TXT))
L["yaxis13"] = box_axis(domain=ydom(668, 688), range=[1.76, -1.1], anchor="x13", linecolor="#333")

for xs, ys in [(g_bg_x, g_bg_lo), (g_bg_x, g_bg_mid), (g_bg_x, g_bg_hi)]:
    pts(xs, ys, NAVY, 8, "x11", "y11")
pts(g_grey_x, g_grey_y, GREYPT, 8, "x11", "y11")
pts(g_navy_x, g_navy_y, NAVY, 8, "x11", "y11")
pts(g_lblue_x, g_lblue_y, LBLUE, 8, "x11", "y11")
pts(g_lead_x, g_lead_y, PURPLE, 10, "x11", "y11", symbol="diamond")
ghost("x11", "y17", 87.0, 0)
shp.append(dict(type="line", xref="x11 domain", yref="y11", x0=0, x1=1, y0=7.3, y1=7.3,
                line=dict(color="#f06a6a", width=1.2)))
txt("rs13066793", 231, 547, size=10.5, color="#333", xa="right")
r2_legend(41, 539, 62, 589, 43.5, 49.5, 546, 8, 3.5, 5, 542)
pts(g_pip_x, g_pip_y, "#3d4cb8", 5, "x12", "y12", lw=0)
txt("95% Credible set", 43, 648, size=8.3, color="#555", xa="left")
txt("PIP", 313, 650, size=5.5, color=TXT, angle=90)
genes(g_gene_names, g_gene_strand, g_gene_start, g_gene_end, [1], g_gene_label_x,
      g_gene_exons, "x13", "y13", 9.5, 7, thick=g_gene_thick, exon_size=4)
txt("−log<sub>10</sub>(p-value)", 10, 584, size=11, color=TXT, angle=-90)
txt("Recombination rate (cM/Mb)", 333, 590, size=11, color="#7c8ad8", angle=90)
txt("Position on chr3 (Mb)", 168, 723, size=10.5, color=TXT)

# ------------------------------ panel h ------------------------------
L["xaxis14"] = dict(domain=xdom(428, 623), range=[2.35, 3.775], anchor="y14", tickvals=[2.4, 2.8, 3.2, 3.6],
                    tickfont=dict(size=9, color="#4d4d4d"), ticks="outside", ticklen=3, tickcolor="#333",
                    showline=True, linecolor="#222", showgrid=False, zeroline=False, ticklabelstandoff=-5)
L["yaxis14"] = dict(domain=ydom(535, 706), range=[1.15, 15.16], anchor="x14", tickvals=[5, 10, 15],
                    tickfont=dict(size=9.5, color="#4d4d4d"), ticks="outside", ticklen=3, tickcolor="#333",
                    showline=True, linecolor="#222", showgrid=False, zeroline=False)
seg(h_fit_x, h_fit_y, "#c1272d", 2, "x14", "y14", dash="dash")
pts(h_expr, h_rd, "black", 4.5, "x14", "y14", lw=0)
txt("p=1.9e-6", 587, 554, size=11, color="#222")
txt("Glucose disposal rate (Rd)<br>(mg/kg/min)", 403, 617, size=11.3, color="#333", angle=-90)
txt("<i>VGLL3</i> adipose Expression", 527, 723, size=10.5, color="#222")
txt("(log2CPM)", 527, 731.5, size=6, color="#666")

# ------------------------------ panel letters ------------------------------
for lab, x, y in [("a", 9, 12), ("b", 345, 15), ("c", 8, 264), ("d", 338, 262), ("e", 570, 263),
                  ("f", 572, 425), ("g", 6, 534), ("h", 379, 536)]:
    txt(f"<b>{lab}</b>", x, y, size=18, color="#111")

L["annotations"] = ann
L["shapes"] = shp
fig.update_layout(**L)
fig.write_html("out.html")
